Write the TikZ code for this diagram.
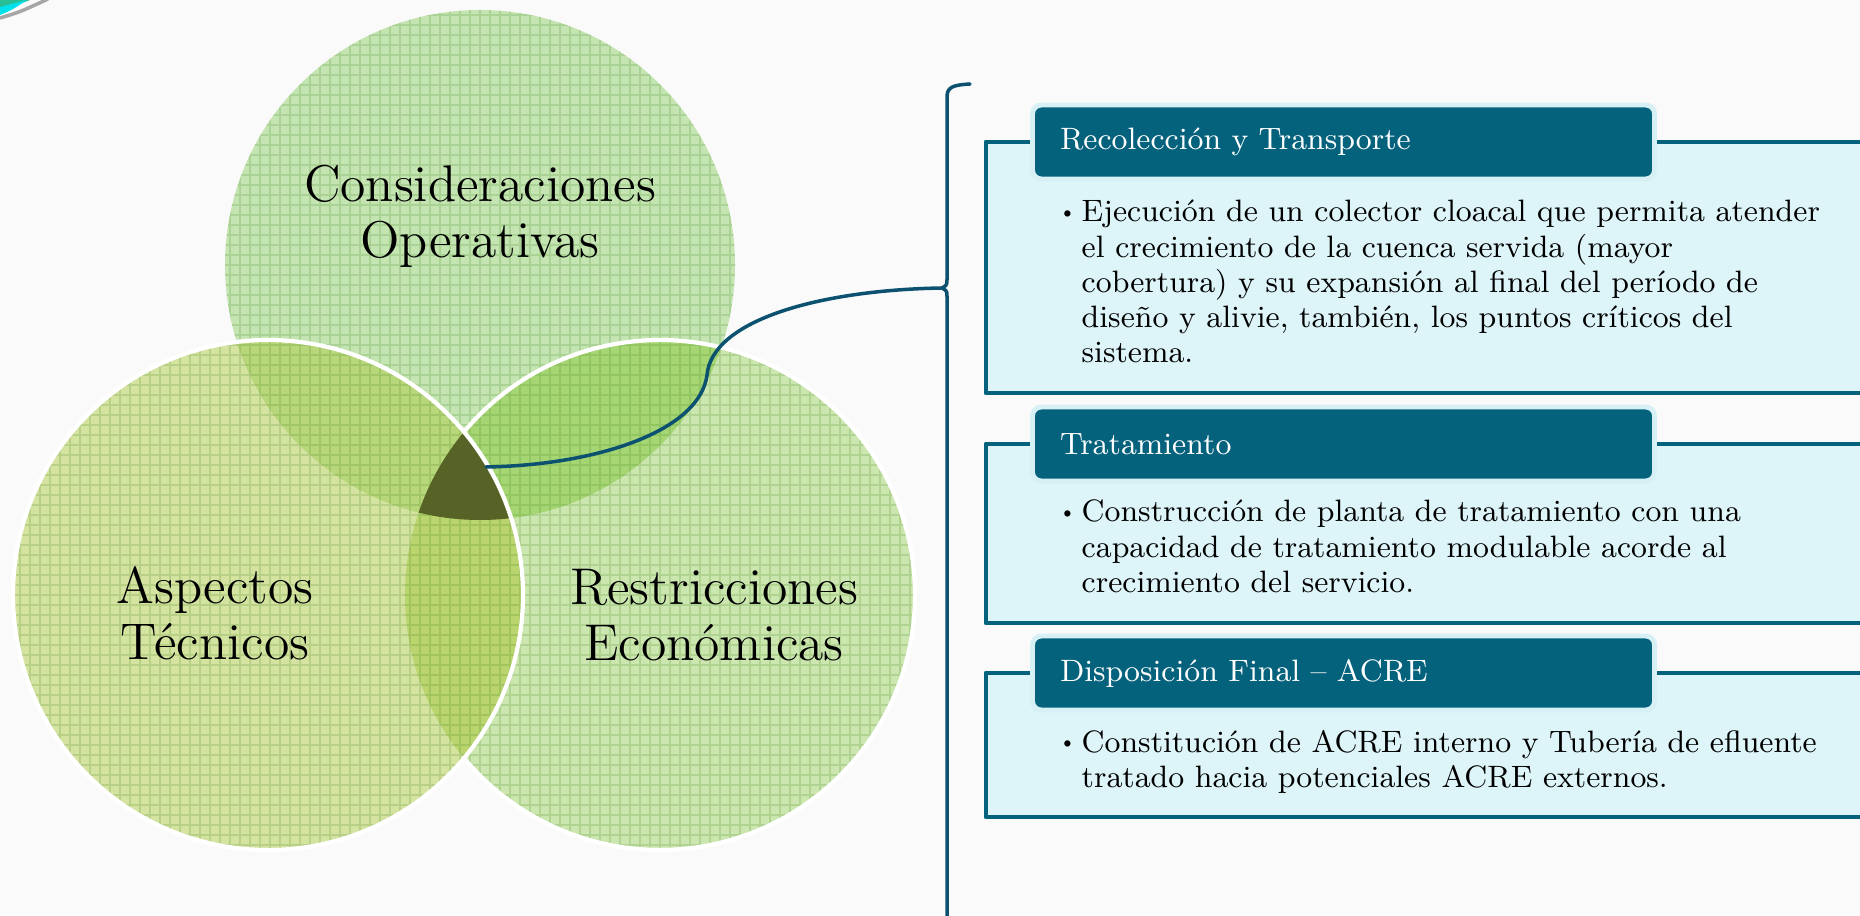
\documentclass[tikz,border=0pt]{standalone}
\usepackage{tikz}
\definecolor{ctop}{RGB}{196,229,178}
\definecolor{cleft}{RGB}{212,227,160}
\definecolor{cright}{RGB}{204,230,176}
\definecolor{ctl}{RGB}{184,214,122}
\definecolor{ctr}{RGB}{166,214,116}
\definecolor{clr}{RGB}{186,212,110}
\definecolor{cmid}{RGB}{87,99,38}
\definecolor{gridc}{RGB}{70,135,30}
\definecolor{tealdk}{RGB}{5,98,124}
\definecolor{halo}{RGB}{214,240,246}
\definecolor{bodyfill}{RGB}{221,244,248}
\definecolor{linkblue}{RGB}{12,82,112}
\definecolor{bgc}{RGB}{250,250,250}
\definecolor{swcyan}{RGB}{0,225,235}
\definecolor{swgreen}{RGB}{40,190,150}
\def\vennr{2.55}
\newcommand{\bul}{\makebox[0.24cm][l]{\raisebox{0.25ex}{\fontsize{6}{6}\selectfont\textbullet}}}
\begin{document}
\begin{tikzpicture}[line join=round,
		venntxt/.style={align=center,font=\fontsize{14.7}{15.9}\selectfont},
		tab/.style={draw=halo,fill=tealdk,line width=1.4pt,rounded corners=2.5pt,minimum width=6.22cm,minimum height=0.74cm,text width=5.67cm,inner xsep=0.275cm,align=left,text=white,font=\fontsize{8.8}{10}\selectfont},
		item/.style={anchor=base west,inner sep=0pt,font=\fontsize{8.8}{9.96}\selectfont},
		body/.style={fill=bodyfill,draw=tealdk,line width=1.4pt},
		link/.style={draw=linkblue,line width=1pt,line cap=round}]
	\clip (0,0) rectangle (18.6,9.15);
	\fill[bgc] (0,0) rectangle (18.6,9.15);
	% corner swoosh
	\fill[swgreen] (0,9.15) -- (0.30,9.15) .. controls (0.15,9.09) .. (0,9.05) -- cycle;
	\fill[swcyan] (0,9.08) -- (0.27,9.15) .. controls (0.12,9.05) .. (0,9.00) -- cycle;
	\draw[gray!70,line width=1pt] (0,8.97) .. controls (0.2,9.03) .. (0.48,9.16);
	% venn
	\coordinate (T) at (4.80,6.50);
	\coordinate (A) at (2.68,3.20);
	\coordinate (R) at (6.60,3.20);
	\fill[ctop] (T) circle (\vennr);
	\fill[cright] (R) circle (\vennr);
	\fill[cleft] (A) circle (\vennr);
	\begin{scope}
		\clip (T) circle (\vennr);
		\fill[ctl] (A) circle (\vennr);
		\fill[ctr] (R) circle (\vennr);
	\end{scope}
	\begin{scope}
		\clip (A) circle (\vennr);
		\fill[clr] (R) circle (\vennr);
	\end{scope}
	\begin{scope}
		\clip (T) circle (\vennr) (A) circle (\vennr) (R) circle (\vennr);
		\draw[gridc,opacity=0.2,line width=0.35pt] (0,0) grid[step=0.1] (9.4,9.15);
	\end{scope}
	\begin{scope}
		\clip (T) circle (\vennr);
		\clip (A) circle (\vennr);
		\fill[cmid] (R) circle (\vennr);
	\end{scope}
	\draw[white,line width=1.2pt] (R) ++(140.2:\vennr) arc (140.2:-140.2:\vennr);
	\draw[white,line width=1.2pt] (A) circle (\vennr);
	\node[venntxt] (cons) at (4.80,6.99) {Consideraciones\\Operativas};
	\node[venntxt] (asp) at (2.15,3.02) {Aspectos\\Técnicos};
	\node[venntxt] (res) at (7.14,3.00) {Restricciones\\Económicas};
	% brace and link
	\coordinate (tri) at (4.86,4.48);
	\draw[link] (9.70,8.31) .. controls (9.53,8.30) and (9.47,8.28) .. (9.47,8.18) -- (9.47,6.36)
		.. controls (9.47,6.30) .. (9.42,6.27) coordinate (tip)
		.. controls (9.47,6.24) .. (9.47,6.18) -- (9.47,-0.1);
	\draw[link] (tri) .. controls (6.00,4.50) and (7.00,4.85) .. (7.07,5.40)
		.. controls (7.12,5.95) and (8.20,6.25) .. (tip);
	% boxes
	\draw[body] (9.86,5.22) rectangle (18.8,7.73);
	\node[tab] (tab1) at (13.435,7.73) {Recolección y Transporte};
	\node[item] (it1) at (10.57,6.93) {\bul\begin{tabular}[t]{@{}l@{}}Ejecución de un colector cloacal que permita atender\\el crecimiento de la cuenca servida (mayor\\cobertura) y su expansión al final del período de\\diseño y alivie, también, los puntos críticos del\\sistema.\end{tabular}};
	\draw[body] (9.86,2.92) rectangle (18.8,4.71);
	\node[tab] (tab2) at (13.435,4.71) {Tratamiento};
	\node[item] (it2) at (10.57,3.93) {\bul\begin{tabular}[t]{@{}l@{}}Construcción de planta de tratamiento con una\\capacidad de tratamiento modulable acorde al\\crecimiento del servicio.\end{tabular}};
	\draw[body] (9.86,0.98) rectangle (18.8,2.42);
	\node[tab] (tab3) at (13.435,2.42) {Disposición Final -- ACRE};
	\node[item] (it3) at (10.57,1.63) {\bul\begin{tabular}[t]{@{}l@{}}Constitución de ACRE interno y Tubería de efluente\\tratado hacia potenciales ACRE externos.\end{tabular}};
\end{tikzpicture}
\end{document}
